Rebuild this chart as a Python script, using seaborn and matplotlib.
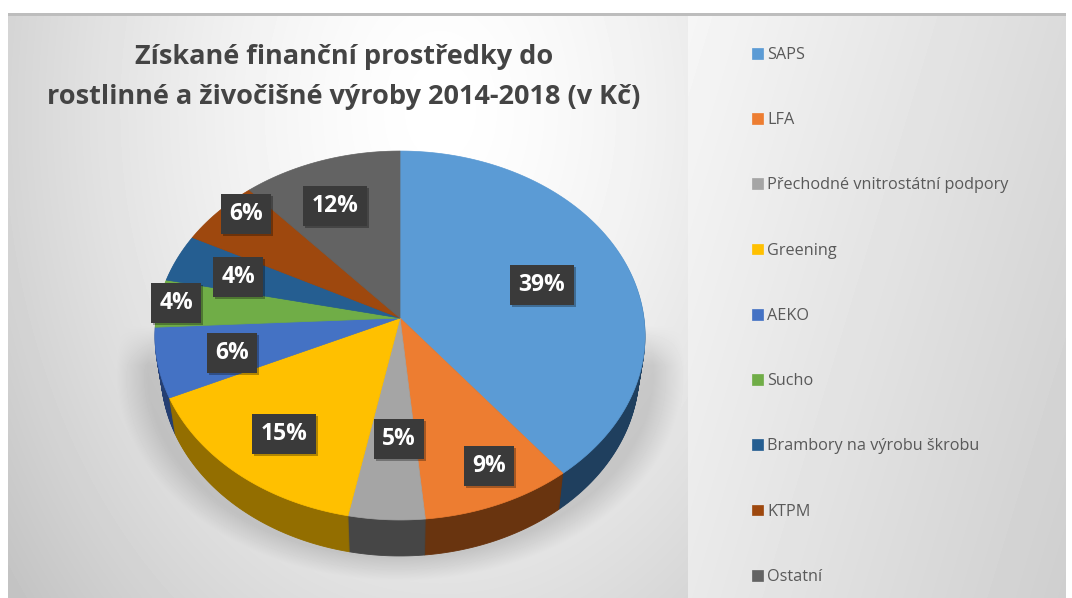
import numpy as np
import matplotlib
matplotlib.use("Agg")
import matplotlib.pyplot as plt
import matplotlib.patheffects as pe
from matplotlib.path import Path
from matplotlib.transforms import Transform, Affine2D
import seaborn as sns

categories = ["SAPS", "LFA", "Přechodné vnitrostátní podpory", "Greening", "AEKO",
              "Sucho", "Brambory na výrobu škrobu", "KTPM", "Ostatní"]
values = [39.4, 9.1, 4.6, 15.0, 6.1, 4.2, 4.2, 5.9, 11.5]
label_texts = ["39%", "9%", "5%", "15%", "6%", "4%", "4%", "6%", "12%"]
top_colors = ["#5B9BD5", "#ED7D31", "#A5A5A5", "#FFC000", "#4472C4",
              "#70AD47", "#255E91", "#9E480E", "#636363"]
side_colors = ["#1F3F5E", "#69340F", "#464646", "#936E00", "#253F72",
               "#3D6027", "#143450", "#572807", "#373737"]
title_lines = "Získané finanční prostředky do\nrostlinné a živočišné výroby 2014-2018 (v Kč)"

W, H = 1072, 598
LABEL_XY = [(542, 285), (489, 466), (399, 439), (284, 434), (232, 353),
            (176, 303), (238, 277), (246, 214), (335, 206)]

sns.set_theme(style="white")
plt.rcParams["font.family"] = ["Open Sans", "DejaVu Sans"]


class Perspective(Transform):
    input_dims = output_dims = 2
    is_separable = False
    has_inverse = False

    def __init__(self, cx=400, cy=318, a=244, b=182.8, k=0.0949, shrink=0.0, dy=0.0):
        super().__init__()
        self.p = (cx, cy, a * (1 - shrink), b, k, dy)

    def transform_non_affine(self, xy):
        xy = np.asarray(xy, float)
        cx, cy, a, b, k, dy = self.p
        den = 1 + k * xy[:, 1]
        return np.column_stack([cx + a * xy[:, 0] / den, cy - b * xy[:, 1] / den + dy])

    def transform_path_non_affine(self, path):
        polys = path.to_polygons(Affine2D().scale(2000), closed_only=False)
        verts = np.concatenate(polys) / 2000.0
        return Path(self.transform_non_affine(verts), closed=True)


fig = plt.figure(figsize=(W / 100, H / 100), dpi=100)
ax = fig.add_axes([0, 0, 1, 1])
ax.axis("off")

# --- backgrounds
yy, xx = np.mgrid[0:H, 0:W].astype(float)
bg = np.ones((H, W))
left = 1.0 - 0.17 * np.clip(np.hypot((xx - 440) / 440, (yy - 110) / 620), 0, 1.25) ** 1.5
shade = np.clip((1.085 - np.hypot((xx - 400) / 262, (yy - 372) / 192)) / 0.12, 0, 1) * 0.14
shade *= np.clip((yy - 325) / 40, 0, 1)
left = left * (1 - shade)
panel = 0.965 - 0.105 * np.clip((xx - 688) / 378, 0, 1) - 0.05 * (yy / H)
mask_left = (xx >= 8) & (xx < 688) & (yy >= 14)
mask_panel = (xx >= 688) & (xx < 1066) & (yy >= 14)
bg[mask_left] = left[mask_left]
bg[mask_panel] = panel[mask_panel]
bg[(yy >= 13) & (yy < 16) & (xx >= 8) & (xx < 1066)] = 0.74
ax.imshow(bg, cmap="gray", vmin=0, vmax=1, extent=(0, W, H, 0), aspect="auto",
          interpolation="bilinear", zorder=0)

# --- extruded side, drawn from the bottom layer upward
depth = 36
for d in range(depth, 0, -1):
    wedges, _ = ax.pie(values, colors=sns.color_palette(side_colors), startangle=90,
                       counterclock=False, wedgeprops={"linewidth": 0.6})
    for w in wedges:
        w.set_edgecolor(w.get_facecolor())
        w.set_transform(Perspective(shrink=0.025 * d / depth, dy=d) + ax.transData)
        w.set_zorder(1 + (depth - d) * 0.01)

# --- top face, percentages from the pie itself
wedges, _, autotexts = ax.pie(values, colors=sns.color_palette(top_colors), startangle=90,
                              counterclock=False, autopct="%.0f%%",
                              wedgeprops={"linewidth": 0.5})
for w in wedges:
    w.set_edgecolor(w.get_facecolor())
    w.set_transform(Perspective() + ax.transData)
    w.set_zorder(2)

ax.set_aspect("auto")
ax.set_xlim(0, W)
ax.set_ylim(H, 0)

for t, s, (x, y) in zip(autotexts, label_texts, LABEL_XY):
    t.set_text(s)
    t.set_position((x, y))
    t.set_transform(ax.transData)
    t.set(color="white", fontsize=16.5, fontweight="bold", ha="center", va="center", zorder=5,
          bbox=dict(boxstyle="square,pad=0.36", facecolor="#3A3A3A", edgecolor="none"))
    t.get_bbox_patch().set_path_effects([
        pe.SimplePatchShadow(offset=(1.5, -1.5), shadow_rgbFace="#000000", alpha=0.3), pe.Normal()])

# --- title
ax.text(344, 77, title_lines, ha="center", va="center", fontsize=19.5, fontweight="bold",
        color="#444444", linespacing=1.66, zorder=5)

# --- legend
leg = ax.legend(wedges, categories, loc="upper left", bbox_to_anchor=(752 / W, 1 - 47 / H),
                bbox_transform=fig.transFigure, frameon=False, fontsize=11.7, labelcolor="#595959",
                handlelength=0.65, handleheight=0.65, handletextpad=0.3, labelspacing=3.03,
                borderpad=0, borderaxespad=0)

fig.savefig("out.png", dpi=100)
